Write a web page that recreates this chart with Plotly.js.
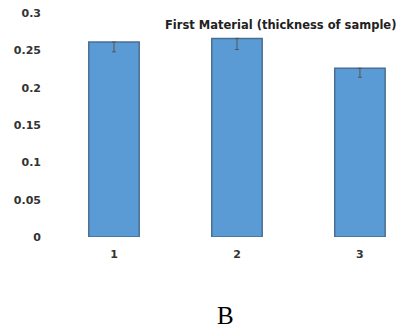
<!DOCTYPE html>
<html><head><meta charset="utf-8">
<script src="https://cdn.plot.ly/plotly-3.0.1.min.js"></script>
<style>html,body{margin:0;padding:0;background:#fff}#chart{width:401px;height:336px}</style>
</head><body><div id="chart"></div>
<script>
const categories = [1, 2, 3];
const tickLabels = ["1", "2", "3"];
const values = [0.261, 0.266, 0.226];
const errorsMinus = [0.013, 0.015, 0.012];
const errorsPlus = [0, 0, 0];
const yTicks = [0, 0.05, 0.1, 0.15, 0.2, 0.25, 0.3];
const yTickLabels = ["0", "0.05", "0.1", "0.15", "0.2", "0.25", "0.3"];
const chartTitle = "First Material (thickness of sample)";
const panelLabel = "B";

const tickFont = {family: "DejaVu Sans, sans-serif", size: 11, color: "#333", weight: "bold"};
Plotly.newPlot("chart", [{
  type: "bar",
  x: categories,
  y: values,
  width: 0.41,
  marker: {color: "#5B9BD5", line: {color: "#4A6F91", width: 1.5}},
  error_y: {type: "data", symmetric: false, array: errorsPlus, arrayminus: errorsMinus,
            color: "#555", thickness: 1, width: 2},
  hoverinfo: "none"
}], {
  width: 401, height: 336,
  margin: {l: 60, r: 6, t: 13, b: 99},
  paper_bgcolor: "#fff", plot_bgcolor: "#fff",
  showlegend: false,
  xaxis: {range: [0.561, 3.285], tickvals: categories, ticktext: tickLabels,
          showgrid: false, zeroline: false, showline: false, ticks: "",
          tickfont: tickFont, ticklabelstandoff: 9},
  yaxis: {range: [0, 0.3], tickvals: yTicks, ticktext: yTickLabels,
          showgrid: false, zeroline: false, showline: false, ticks: "",
          tickfont: tickFont, ticklabelstandoff: 18},
  annotations: [
    {text: chartTitle, xref: "paper", yref: "paper", x: (398 - 60) / 335, xanchor: "right",
     y: (237 - 25) / 224, yanchor: "middle", showarrow: false,
     font: {family: "DejaVu Sans, sans-serif", size: 11.5, color: "#222", weight: "bold"}},
    {text: panelLabel, xref: "paper", yref: "paper", x: (225 - 60) / 335, xanchor: "center",
     y: (237 - 315) / 224, yanchor: "middle", showarrow: false,
     font: {family: "Liberation Serif, Times New Roman, serif", size: 25, color: "#000"}}
  ]
}, {staticPlot: true, displayModeBar: false});
</script></body></html>
